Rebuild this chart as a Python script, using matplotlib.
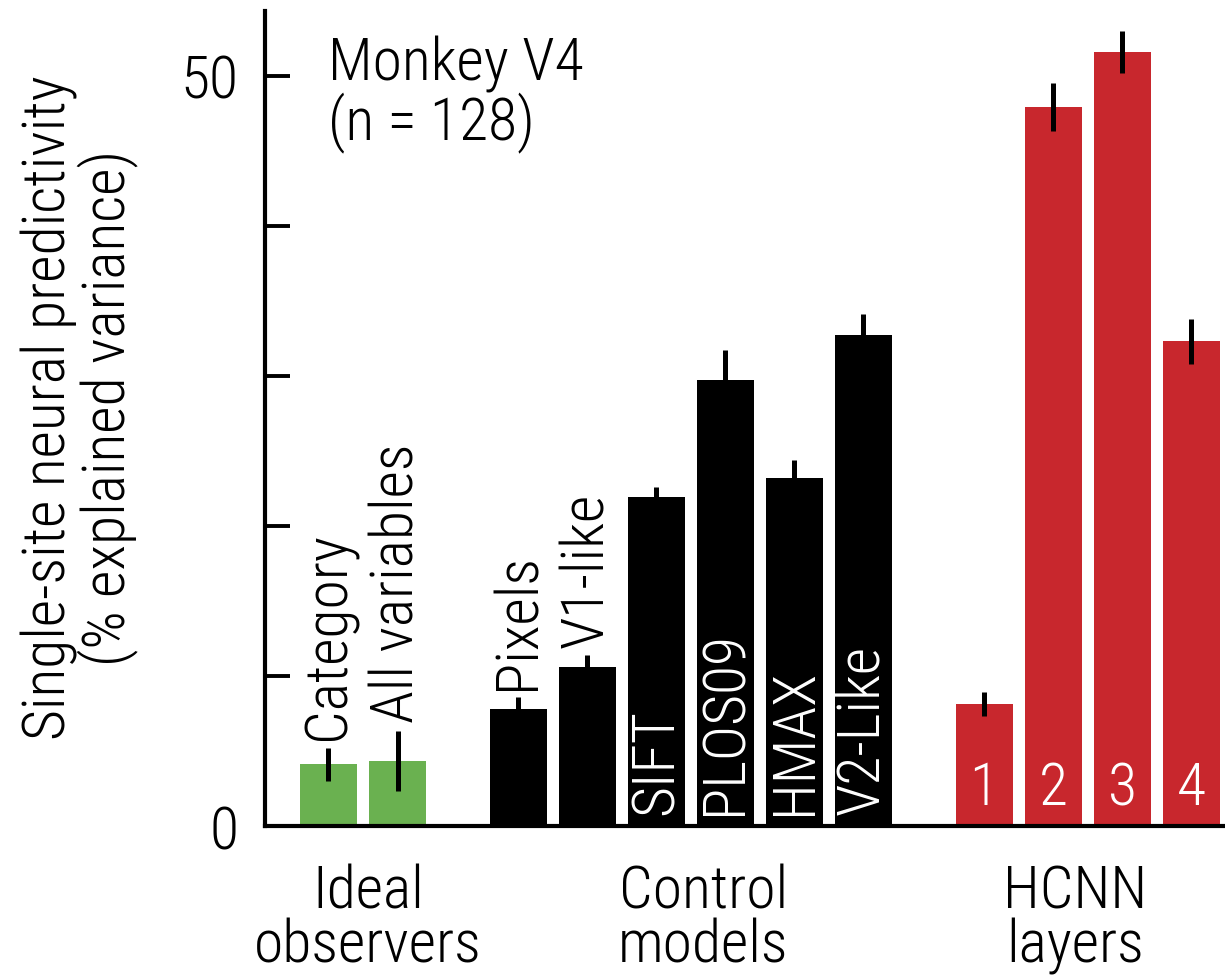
import matplotlib
matplotlib.use("Agg")
import matplotlib.pyplot as plt
from matplotlib import font_manager as fm
import numpy as np

# ---- data ----
ideal_labels = ["Category", "All variables"]
ideal_values = [4.1, 4.3]
ideal_errors = [1.1, 2.0]

control_labels = ["Pixels", "V1-like", "SIFT", "PLOS09", "HMAX", "V2-Like"]
control_values = [7.8, 10.6, 21.9, 29.7, 23.2, 32.7]
control_errors = [0.8, 0.8, 0.7, 2.0, 1.2, 1.4]

hcnn_labels = ["1", "2", "3", "4"]
hcnn_values = [8.1, 47.9, 51.6, 32.3]
hcnn_errors = [0.8, 1.6, 1.4, 1.5]

group_labels = ["Ideal\nobservers", "Control\nmodels", "HCNN\nlayers"]
yticks = [0, 10, 20, 30, 40, 50]
ytick_labels = ["0", "", "", "", "", "50"]

# ---- font ----
names = {f.name for f in fm.fontManager.ttflist}
family = "DejaVu Sans"
stretch = "normal"
for cand in ["Roboto Condensed", "Liberation Sans Narrow", "Open Sans Condensed"]:
    if cand in names:
        family = cand
        break
else:
    stretch = "condensed"
plt.rcParams["font.family"] = [family, "DejaVu Sans"]
plt.rcParams["font.stretch"] = stretch
plt.rcParams["font.weight"] = "light"

FS = 43
GREEN = "#6AB150"
RED = "#C8272D"

fig = plt.figure(figsize=(12.25, 9.78), dpi=100)
ax = fig.add_axes([265 / 1225, 1 - 827 / 978, 1 - 265 / 1225, (827 - 12) / 978])

w = 0.826
ideal_x = np.arange(len(ideal_values)) * 1.0
control_x = 2.75 + np.arange(len(control_values))
hcnn_x = 9.5 + np.arange(len(hcnn_values))

ekw = dict(elinewidth=3.6, capsize=0, ecolor="black")
ax.bar(ideal_x, ideal_values, w, yerr=ideal_errors, color=GREEN, error_kw=ekw, zorder=2)
ax.bar(control_x, control_values, w, yerr=control_errors, color="black", error_kw=ekw, zorder=2)
ax.bar(hcnn_x, hcnn_values, w, yerr=hcnn_errors, color=RED, error_kw=ekw, zorder=2)

# labels above bars
for x, v, e, lab in zip(ideal_x, ideal_values, ideal_errors, ideal_labels):
    ax.text(x, v + e + 0.6, lab, rotation=90, ha="center", va="bottom", fontsize=FS, color="black")
for i, (x, v, e, lab) in enumerate(zip(control_x, control_values, control_errors, control_labels)):
    if i < 2:
        ax.text(x, v + e + 0.5, lab, rotation=90, ha="center", va="bottom", fontsize=FS, color="black")
    else:
        ax.text(x, 0.8, lab, rotation=90, ha="center", va="bottom", fontsize=FS, color="white")
for x, lab in zip(hcnn_x, hcnn_labels):
    ax.text(x, 1.45, lab, ha="center", va="baseline", fontsize=FS, color="white")

ax.set_xlim(-0.92, 12.99)
ax.set_ylim(0, 54.3)
ax.set_yticks(yticks)
ax.set_yticklabels(ytick_labels, fontsize=FS)
ax.set_xticks([])
ax.tick_params(axis="y", direction="in", length=18, width=2.8, pad=19)
for s in ["top", "right"]:
    ax.spines[s].set_visible(False)
for s in ["left", "bottom"]:
    ax.spines[s].set_linewidth(3)

# group labels
trans = ax.get_xaxis_transform()
for gx, gl in zip([0.57, 5.43, 10.82], group_labels):
    ax.text(gx, -0.045, gl, transform=trans, ha="center", va="top", fontsize=FS,
            linespacing=0.95, clip_on=False)

fig.text(328 / 1225, 1 - 36 / 978, "Monkey V4\n(n = 128)", ha="left", va="top",
         fontsize=FS, linespacing=1.0)
fig.text(80 / 1225, 1 - 408 / 978, "Single-site neural predictivity\n(% explained variance)",
         rotation=90, ha="center", va="center", multialignment="center", fontsize=FS,
         linespacing=1.0)

fig.savefig("out.png", dpi=100)
